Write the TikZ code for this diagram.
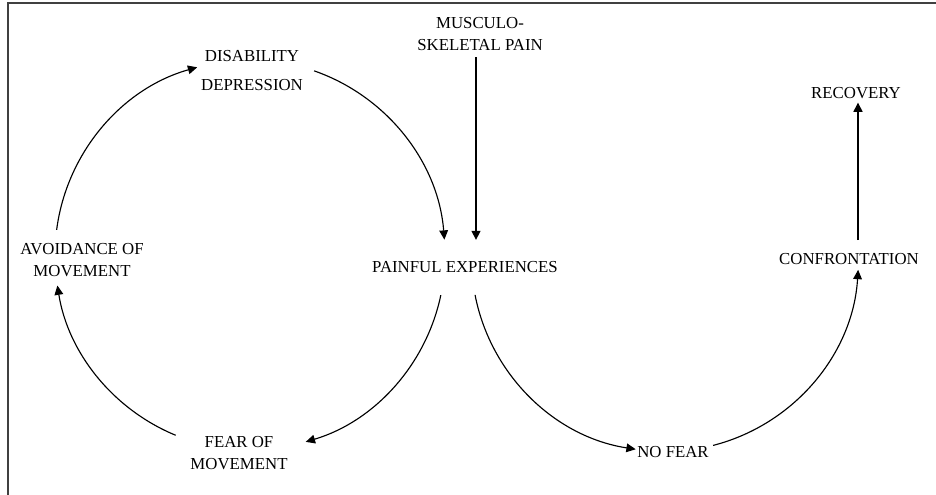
\documentclass[tikz,border=0pt]{standalone}
\usepackage{fontspec}
\setmainfont{Liberation Serif}
\usetikzlibrary{arrows.meta}
\begin{document}
\begin{tikzpicture}[x=0.75pt,y=-0.75pt,
  lbl/.style={inner sep=0pt, align=center, font=\fontsize{12.6}{16.5}\selectfont},
  carr/.style={line width=0.85pt, -{Triangle[length=7pt,width=6.5pt]}},
  varr/.style={line width=1.7pt, -{Triangle[length=7pt,width=6.5pt]}},
  frame/.style={line width=1.5pt, draw=black!75}]
\useasboundingbox (0,0) rectangle (936,495);
\draw[frame] (8,495) -- (8,3) -- (936,3);

% nodes
\node[lbl] (musc)   at (480,34)   {MUSCULO-\\SKELETAL PAIN};
\node[lbl] (dis)    at (252,70.5) {DISABILITY\\[5.25pt]DEPRESSION};
\node[lbl] (avoid)  at (82,260)   {AVOIDANCE OF\\MOVEMENT};
\node[lbl] (pain)   at (465,267)  {PAINFUL EXPERIENCES};
\node[lbl] (fear)   at (239,453)  {FEAR OF\\MOVEMENT};
\node[lbl] (nofear) at (673,452)  {NO FEAR};
\node[lbl] (conf)   at (849,259)  {CONFRONTATION};
\node[lbl] (rec)    at (856,93)   {RECOVERY};

% circle centres
\coordinate (c1) at (250,255);
\coordinate (c2) at (665,258);

% arc start points
\path ([shift={(-172.6:195)}]c1) coordinate (s1);
\path ([shift={(-70.8:195)}]c1)  coordinate (s2);
\path ([shift={(11.9:195)}]c1)   coordinate (s3);
\path ([shift={(112.4:195)}]c1)  coordinate (s4);
\path ([shift={(169:193.5)}]c2)  coordinate (s5);
\path ([shift={(75.6:193.5)}]c2) coordinate (s6);

% vicious circle
\draw[carr] (s1) arc[start angle=-172.6, end angle=-105.7, radius=195]; % avoid -> dis
\draw[carr] (s2) arc[start angle=-70.8, end angle=-4.5, radius=195];    % dis -> pain
\draw[carr] (s3) arc[start angle=11.9, end angle=73.4, radius=195];     % pain -> fear
\draw[carr] (s4) arc[start angle=112.4, end angle=171, radius=195];     % fear -> avoid

% recovery path
\draw[carr] (s5) arc[start angle=169, end angle=98.7, radius=193.5];    % pain -> nofear
\draw[carr] (s6) arc[start angle=75.6, end angle=3.5, radius=193.5];    % nofear -> conf

% straight arrows
\draw[varr] ([shift={(-4,6.5)}]musc.south) -- ([shift={(11,-21)}]pain.north);
\draw[varr] ([shift={(9,-13)}]conf.north) -- ([shift={(2,3.5)}]rec.south);
\end{tikzpicture}
\end{document}
